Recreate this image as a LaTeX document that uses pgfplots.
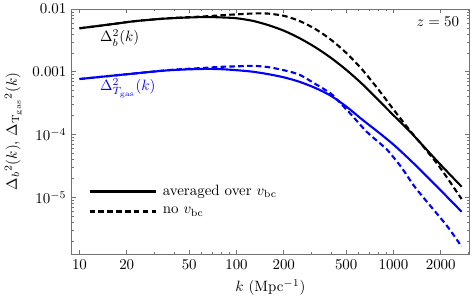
\documentclass[border=0pt]{standalone}
\usepackage{pgfplots}
\pgfplotsset{compat=1.18}
\begin{document}
\begin{tikzpicture}
\begin{axis}[
  scale only axis, width=264.9bp, height=163.3bp,
  xmode=log, ymode=log,
  xmin=8.92, xmax=3027, ymin=1.256e-6, ymax=0.01,
  xtick={10,20,50,100,200,500,1000,2000},
  xticklabels={10,20,50,100,200,500,1000,2000},
  minor xtick={30,40,60,70,80,90,300,400,600,700,800,900,3000},
  ytick={1e-5,1e-4,1e-3,1e-2},
  yticklabels={$10^{-5}$,$10^{-4}$,$0.001$,$0.01$},
  minor ytick={2e-6,3e-6,4e-6,5e-6,6e-6,7e-6,8e-6,9e-6,
               2e-5,3e-5,4e-5,5e-5,6e-5,7e-5,8e-5,9e-5,
               2e-4,3e-4,4e-4,5e-4,6e-4,7e-4,8e-4,9e-4,
               2e-3,3e-3,4e-3,5e-3,6e-3,7e-3,8e-3,9e-3},
  tick align=inside,
  major tick length=2.7bp, minor tick length=1.5bp,
  axis line style={black!55, line width=0.4bp},
  tick style={black!55, line width=0.4bp},
  xlabel={$k$ (Mpc$^{-1}$)},
  ylabel={$\Delta_b{}^2(k)$,\ $\Delta_{\mathrm{T_{gas}}}{}^2(k)$},
  legend cell align=left,
  legend style={at={(0.041,0.218)}, anchor=west, draw=none, fill=none,
    inner sep=0pt, row sep=3.3bp,
    nodes={inner sep=1.5bp}},
  legend image code/.code={\draw[#1] (0bp,0bp) -- (44bp,0bp);},
]
\addlegendimage{black, line width=1.7bp}
\addlegendentry{\hspace{2.5bp}averaged over $v_{\mathrm{bc}}$}
\addlegendimage{black, line width=1.5bp, dash pattern=on 3.7bp off 2.2bp}
\addlegendentry{\hspace{2.5bp}no $v_{\mathrm{bc}}$}

% black solid: averaged over v_bc
\addplot[black, line width=1.4bp, smooth, tension=0.5, forget plot] coordinates {
(10,4.93e-3) (15,5.6e-3) (23,6.44e-3) (37.7,7.11e-3) (61,7.44e-3) (80,7.35e-3)
(100,7.12e-3) (126,6.50e-3) (158,5.58e-3) (200,4.52e-3) (251,3.45e-3)
(316,2.48e-3) (398,1.68e-3) (501,1.07e-3) (631,6.42e-4) (794,3.63e-4)
(1000,2.03e-4) (1259,1.15e-4) (1585,6.17e-5) (1995,3.31e-5) (2716,1.48e-5)
};
% black dashed: no v_bc
\addplot[black, line width=1.4bp, dash pattern=on 3.7bp off 2.2bp, smooth, tension=0.5, forget plot] coordinates {
(10,4.93e-3) (15,5.6e-3) (23,6.44e-3) (37.7,7.15e-3) (61,7.6e-3) (80,7.95e-3)
(100,8.22e-3) (126,8.47e-3) (148,8.51e-3) (158,8.47e-3) (200,7.80e-3)
(251,6.47e-3) (316,4.84e-3) (398,3.27e-3) (501,1.99e-3) (631,1.09e-3)
(794,5.38e-4) (1000,2.51e-4) (1259,1.20e-4) (1585,6.0e-5) (1995,2.9e-5) (2716,9.4e-6)
};
% blue solid
\addplot[blue, line width=1.4bp, smooth, tension=0.5, forget plot] coordinates {
(10,7.67e-4) (15,8.5e-4) (23,9.46e-4) (37.7,1.06e-3) (61,1.11e-3) (80,1.10e-3)
(100,1.06e-3) (126,1.005e-3) (158,9.2e-4) (200,8.17e-4) (251,6.95e-4)
(316,5.56e-4) (398,4.17e-4) (501,2.79e-4) (631,1.74e-4) (794,1.11e-4)
(1000,6.92e-5) (1259,4.07e-5) (1585,2.32e-5) (1995,1.30e-5) (2716,5.91e-6)
};
% blue dashed
\addplot[blue, line width=1.4bp, dash pattern=on 3.7bp off 2.2bp, smooth, tension=0.5, forget plot] coordinates {
(10,7.67e-4) (15,8.5e-4) (23,9.46e-4) (37.7,1.07e-3) (61,1.15e-3) (80,1.2e-3)
(100,1.22e-3) (126,1.245e-3) (158,1.19e-3) (200,1.06e-3) (251,9.0e-4)
(316,6.46e-4) (398,4.52e-4) (447,3.39e-4) (501,2.51e-4) (528,2.19e-4)
(675,1.11e-4) (820,7.26e-5) (906,5.83e-5) (1122,3.02e-5) (1337,1.58e-5)
(1585,9.3e-6) (2183,3.55e-6) (2716,1.64e-6)
};

\node[anchor=west, inner sep=0pt] at (axis cs:13.5,3.45e-3) {$\Delta_b^2(k)$};
\node[anchor=west, inner sep=0pt, text=blue] at (axis cs:13.5,5.5e-4) {$\Delta^2_{T_{\mathrm{gas}}}(k)$};
\node[anchor=east, inner sep=0pt] at (rel axis cs:0.976,0.947) {$z=50$};
\end{axis}
\pgfresetboundingbox
\path[use as bounding box] ([xshift=-47.8bp,yshift=-34bp]current axis.south west) rectangle ([xshift=3.33bp,yshift=6bp]current axis.north east);
\end{tikzpicture}
\end{document}
